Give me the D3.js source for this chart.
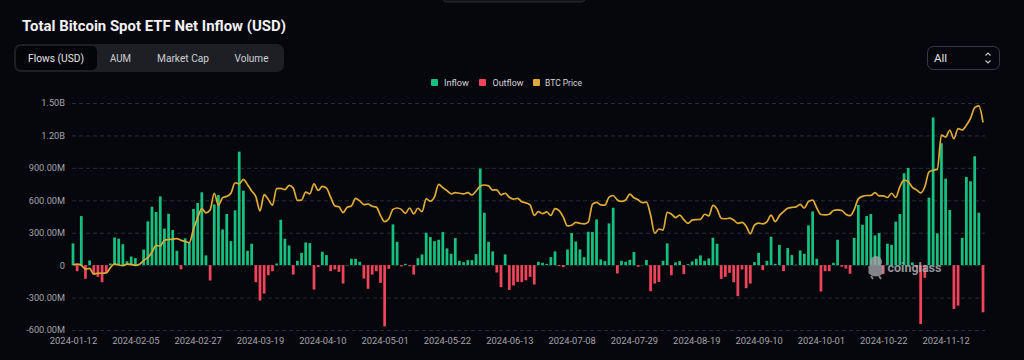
<!DOCTYPE html>
<html><head><meta charset="utf-8">
<script src="https://cdn.jsdelivr.net/npm/d3@7"></script>
<style>
html,body{margin:0;padding:0;background:#06070c;}
svg{display:block;font-family:Roboto,"Noto Sans",sans-serif;}
</style></head><body>
<svg id="c" width="1024" height="360"></svg>
<script>
// ---------- DATA ----------
const dates = [
"2024-01-12","2024-01-16","2024-01-17","2024-01-18","2024-01-19","2024-01-22","2024-01-23","2024-01-24","2024-01-25","2024-01-26","2024-01-29","2024-01-30","2024-01-31",
"2024-02-01","2024-02-02","2024-02-05","2024-02-06","2024-02-07","2024-02-08","2024-02-09","2024-02-12","2024-02-13","2024-02-14","2024-02-15","2024-02-16","2024-02-20","2024-02-21","2024-02-22","2024-02-23","2024-02-26","2024-02-27","2024-02-28","2024-02-29",
"2024-03-01","2024-03-04","2024-03-05","2024-03-06","2024-03-07","2024-03-08","2024-03-11","2024-03-12","2024-03-13","2024-03-14","2024-03-15","2024-03-18","2024-03-19","2024-03-20","2024-03-21","2024-03-22","2024-03-25","2024-03-26","2024-03-27","2024-03-28",
"2024-04-01","2024-04-02","2024-04-03","2024-04-04","2024-04-05","2024-04-08","2024-04-09","2024-04-10","2024-04-11","2024-04-12","2024-04-15","2024-04-16","2024-04-17","2024-04-18","2024-04-19","2024-04-22","2024-04-23","2024-04-24","2024-04-25","2024-04-26","2024-04-29","2024-04-30",
"2024-05-01","2024-05-02","2024-05-03","2024-05-06","2024-05-07","2024-05-08","2024-05-09","2024-05-10","2024-05-13","2024-05-14","2024-05-15","2024-05-16","2024-05-17","2024-05-20","2024-05-21","2024-05-22","2024-05-23","2024-05-24","2024-05-28","2024-05-29","2024-05-30","2024-05-31",
"2024-06-03","2024-06-04","2024-06-05","2024-06-06","2024-06-07","2024-06-10","2024-06-11","2024-06-12","2024-06-13","2024-06-14","2024-06-17","2024-06-18","2024-06-20","2024-06-21","2024-06-24","2024-06-25","2024-06-26","2024-06-27","2024-06-28",
"2024-07-01","2024-07-02","2024-07-03","2024-07-05","2024-07-08","2024-07-09","2024-07-10","2024-07-11","2024-07-12","2024-07-15","2024-07-16","2024-07-17","2024-07-18","2024-07-19","2024-07-22","2024-07-23","2024-07-24","2024-07-25","2024-07-26","2024-07-29","2024-07-30","2024-07-31",
"2024-08-01","2024-08-02","2024-08-05","2024-08-06","2024-08-07","2024-08-08","2024-08-09","2024-08-12","2024-08-13","2024-08-14","2024-08-15","2024-08-16","2024-08-19","2024-08-20","2024-08-21","2024-08-22","2024-08-23","2024-08-26","2024-08-27","2024-08-28","2024-08-29","2024-08-30",
"2024-09-03","2024-09-04","2024-09-05","2024-09-06","2024-09-09","2024-09-10","2024-09-11","2024-09-12","2024-09-13","2024-09-16","2024-09-17","2024-09-18","2024-09-19","2024-09-20","2024-09-23","2024-09-24","2024-09-25","2024-09-26","2024-09-27","2024-09-30",
"2024-10-01","2024-10-02","2024-10-03","2024-10-04","2024-10-07","2024-10-08","2024-10-09","2024-10-10","2024-10-11","2024-10-14","2024-10-15","2024-10-16","2024-10-17","2024-10-18","2024-10-21","2024-10-22","2024-10-23","2024-10-24","2024-10-25","2024-10-28","2024-10-29","2024-10-30","2024-10-31",
"2024-11-01","2024-11-04","2024-11-05","2024-11-06","2024-11-07","2024-11-08","2024-11-11","2024-11-12","2024-11-13","2024-11-14","2024-11-15","2024-11-18","2024-11-19","2024-11-20","2024-11-21","2024-11-22","2024-11-25"
];
// net flow, million USD
const flows = [
201,-56,454,-127,43,-87,-108,-158,-71,15,256,245,194,
36,80,65,2,144,405,540,492,636,338,475,326,133,-39,248,210,520,575,674,90,
-142,562,649,330,473,222,507,1050,689,133,198,-158,-328,-263,-93,-56,15,420,244,182,
-87,40,114,210,204,-226,-18,124,93,-56,-40,-62,-170,2,59,59,31,-124,-219,-87,-56,-164,
-566,-34,377,216,-12,12,-9,-87,65,99,300,260,222,235,306,155,105,250,40,28,46,46,
102,893,485,216,127,-68,-204,99,-229,-188,-155,-157,-140,-108,-179,31,22,12,74,
127,-9,-19,145,297,219,145,74,309,306,423,53,37,386,531,-77,40,31,49,121,-15,2,
48,-241,-170,-155,40,201,-93,25,37,-83,9,34,59,90,40,62,253,198,-127,-108,-71,-158,
-287,-40,-213,-170,28,114,-46,40,263,12,188,-56,158,93,4,136,105,368,497,59,
-244,-56,-56,22,235,-15,-31,-80,253,556,374,454,473,275,297,-80,198,188,402,473,850,899,25,
-20,-544,-117,624,1366,294,1128,800,510,-405,-374,253,816,776,1007,485,-436
];
// BTC price, thousand USD
const btcPrice = [
43.0,43.2,42.8,41.5,41.7,39.7,40.0,40.0,40.1,42.0,43.3,42.9,42.7,
43.2,43.1,42.8,43.2,44.5,45.5,47.4,49.8,49.6,51.6,51.9,52.0,52.2,51.6,51.2,50.8,55.5,59.5,62.8,61.3,
62.3,68.2,64.0,66.6,67.1,68.2,71.9,71.5,73.1,71.2,69.0,67.0,62.0,67.7,66.0,64.0,69.8,69.9,69.5,71.0,
70.0,65.7,65.8,68.6,68.0,71.5,69.2,70.6,70.0,66.8,63.8,63.4,61.4,63.3,63.7,66.4,65.5,64.2,64.4,63.6,63.3,60.4,
58.2,59.2,62.5,63.0,62.5,61.1,63.0,60.9,62.9,61.7,66.2,65.4,66.9,71.3,70.2,69.1,68.0,68.4,68.2,68.0,68.4,67.6,
69.0,70.7,71.1,70.8,69.3,69.4,67.6,68.2,66.8,66.1,66.4,65.2,64.8,64.1,60.4,61.7,61.0,61.6,60.4,
62.8,62.1,59.8,56.7,56.9,57.9,57.6,57.4,58.0,64.3,65.0,64.1,64.0,66.8,67.4,65.8,65.3,65.8,67.9,66.6,65.9,64.9,
65.1,60.5,54.1,55.6,55.2,61.5,60.9,59.6,60.5,58.9,57.6,58.7,58.9,59.0,60.8,60.2,63.9,62.6,59.4,59.2,59.4,58.8,
57.6,57.9,56.6,53.9,57.0,57.7,57.4,58.1,60.5,58.2,60.3,61.7,62.9,63.2,63.4,64.3,63.0,65.3,65.8,63.0,
60.7,60.6,60.8,62.1,62.3,62.1,60.8,60.3,62.4,66.2,67.1,67.4,67.4,68.4,67.3,67.3,66.7,68.2,66.7,70.5,72.8,72.3,70.3,
69.4,68.3,70.5,75.7,76.3,76.6,88.7,88.0,90.4,87.4,91.0,90.5,92.2,94.6,98.4,99.0,93.2
];
const yTicks = [-600,-300,0,300,600,900,1200,1500];
const yTickLabels = ["-600.00M","-300.00M","0","300.00M","600.00M","900.00M","1.20B","1.50B"];
const xTickDates = ["2024-01-12","2024-02-05","2024-02-27","2024-03-19","2024-04-10","2024-05-01","2024-05-22","2024-06-13","2024-07-08","2024-07-29","2024-08-19","2024-09-10","2024-10-01","2024-10-22","2024-11-12"];
const tabs = ["Flows (USD)","AUM","Market Cap","Volume"];
const legendLabels = ["Inflow","Outflow","BTC Price"];
const titleText = "Total Bitcoin Spot ETF Net Inflow (USD)";

// ---------- STYLE ----------
const GREEN = "#16c07f", RED = "#ef4459", GOLD = "#dfab36";
const svg = d3.select("#c");

// top stub
svg.append("rect").attr("x",442).attr("y",-10).attr("width",144).attr("height",12).attr("rx",5)
  .attr("fill","#14151b").attr("stroke","#2b2c33");

// title
svg.append("text").attr("x",22).attr("y",31).text(titleText)
  .attr("font-size",15.4).attr("font-weight",700).attr("fill","#f1f1f3")
  .attr("textLength",264).attr("lengthAdjust","spacingAndGlyphs");

// tabs
svg.append("rect").attr("x",14).attr("y",44).attr("width",270).attr("height",28).attr("rx",7).attr("fill","#1e1f25");
svg.append("rect").attr("x",16).attr("y",46).attr("width",81).attr("height",24).attr("rx",5).attr("fill","#040509");
const tabCenters = [56,120.5,183,251.5];
const tabWidths = [56,21,52,34];
svg.selectAll("text.tab").data(tabs).enter().append("text").attr("class","tab")
  .attr("x",(d,i)=>tabCenters[i]).attr("y",62).attr("text-anchor","middle")
  .attr("font-size",11.3).attr("fill",(d,i)=>i===0?"#e4e4e6":"#cfd0d4")
  .attr("textLength",(d,i)=>tabWidths[i]).attr("lengthAdjust","spacingAndGlyphs").text(d=>d);

// select box
svg.append("rect").attr("x",927.5).attr("y",46.5).attr("width",72).attr("height",23).attr("rx",6)
  .attr("fill","none").attr("stroke","#3a3b42");
svg.append("text").attr("x",934).attr("y",62).attr("font-size",11.5).attr("fill","#e0e0e2").text("All");
svg.append("path").attr("d","M985.5,55.5 L988,53 L990.5,55.5 M985.5,60.5 L988,63 L990.5,60.5")
  .attr("fill","none").attr("stroke","#c8c8cc").attr("stroke-width",1.1);

// legend
const legColors = [GREEN, RED, GOLD];
const legSq = [431, 479, 533];
const legTx = [444, 492.5, 545];
const legW = [25, 31, 37];
legendLabels.forEach((l,i)=>{
  svg.append("rect").attr("x",legSq[i]).attr("y",79).attr("width",7).attr("height",7).attr("rx",1).attr("fill",legColors[i]);
  svg.append("text").attr("x",legTx[i]).attr("y",86.3).attr("font-size",9.8).attr("fill","#d4d4d8")
    .attr("textLength",legW[i]).attr("lengthAdjust","spacingAndGlyphs").text(l);
});

// scales
const x = d3.scalePoint().domain(dates).range([73, 983]);
const y = d3.scaleLinear().domain([-600, 1500]).range([330, 103]);
const yP = d3.scaleLinear().domain([20, 100]).range([330, 103]);
const bw = x.step() * 0.66;

// y axis + grid
const yAxis = svg.append("g").attr("transform","translate(72,0)")
  .call(d3.axisLeft(y).tickValues(yTicks).tickFormat((d,i)=>yTickLabels[i]).tickSize(-913).tickPadding(7));
yAxis.select(".domain").remove();
yAxis.selectAll(".tick line").attr("stroke","#2a2c33").attr("stroke-dasharray","4 3");
yAxis.selectAll(".tick text").attr("fill","#a4a5ab").attr("font-size",9.2).attr("font-family","Roboto");

// x axis
const xAxis = svg.append("g").attr("transform","translate(0,330)")
  .call(d3.axisBottom(x).tickValues(xTickDates).tickSize(0).tickPadding(7.5));
xAxis.select(".domain").remove();
xAxis.selectAll(".tick text").attr("fill","#a4a5ab").attr("font-size",9.4).attr("font-family","Roboto");

// bars
svg.append("g").selectAll("rect").data(flows).enter().append("rect")
  .attr("x",(d,i)=>x(dates[i]) - bw/2)
  .attr("y",d=>d>=0 ? y(d) : y(0))
  .attr("width",bw)
  .attr("height",d=>Math.abs(y(d)-y(0)))
  .attr("fill",d=>d>=0?GREEN:RED);

// BTC price line
const line = d3.line().x((d,i)=>x(dates[i])).y(d=>yP(d)).curve(d3.curveMonotoneX);
svg.append("path").datum(btcPrice).attr("d",line).attr("fill","none")
  .attr("stroke",GOLD).attr("stroke-width",1.7).attr("stroke-linejoin","round");

// watermark
const wm = svg.append("g").attr("opacity",0.8);
wm.append("circle").attr("cx",876).attr("cy",262).attr("r",6).attr("fill","#a2a3a8");
wm.append("path").attr("d","M868.5,266 Q876,261.5 883.5,266 L883.5,273.5 Q876,279.5 868.5,273.5 Z").attr("fill","#a2a3a8");
wm.append("path").attr("d","M871,276 L873,279 M879,276 L881,279").attr("stroke","#a2a3a8").attr("stroke-width",2);
wm.append("text").attr("x",887.5).attr("y",272).attr("font-size",13.5).attr("font-weight",700)
  .attr("fill","#b8b9bd").attr("textLength",54).attr("lengthAdjust","spacingAndGlyphs").text("coinglass");
</script>
</body></html>
